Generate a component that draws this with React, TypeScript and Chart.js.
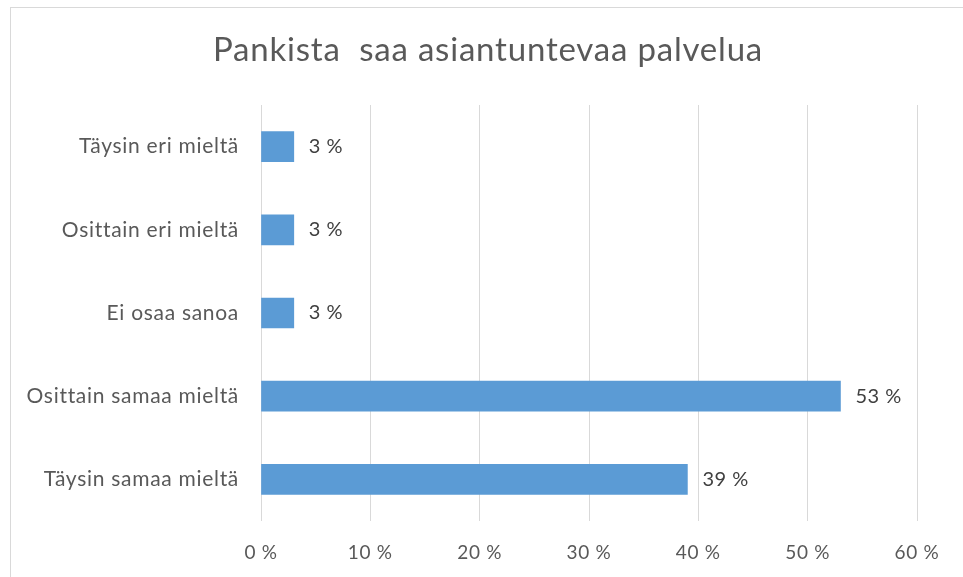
import React, { useEffect, useRef } from "react";
import { Chart, registerables } from "chart.js";

Chart.register(...registerables);

const TITLE = "Pankista  saa asiantuntevaa palvelua";
const categories = [
  "Täysin eri mieltä",
  "Osittain eri mieltä",
  "Ei osaa sanoa",
  "Osittain samaa mieltä",
  "Täysin samaa mieltä",
];
const values = [3, 3, 3, 53, 39];
const xTicks = [0, 10, 20, 30, 40, 50, 60];

const FONT = "Lato, 'Open Sans', sans-serif";
const TEXT = "#595959";

const frame = {
  id: "frame",
  beforeDraw(chart: any) {
    const ctx = chart.ctx;
    ctx.save();
    ctx.fillStyle = "#ffffff";
    ctx.fillRect(0, 0, chart.width, chart.height);
    ctx.strokeStyle = "#d9d9d9";
    ctx.lineWidth = 1;
    ctx.strokeRect(10.5, 7.5, chart.width + 20, chart.height + 20);
    ctx.font = `33px ${FONT}`;
    ctx.letterSpacing = "0.8px";
    ctx.fillStyle = TEXT;
    ctx.textAlign = "center";
    ctx.textBaseline = "alphabetic";
    ctx.fillText(TITLE, 488, 61);
    ctx.restore();
    ctx.letterSpacing = "0.7px";
  },
};

const valueLabels = {
  id: "valueLabels",
  afterDatasetsDraw(chart: any) {
    const ctx = chart.ctx;
    const meta = chart.getDatasetMeta(0);
    ctx.save();
    ctx.font = `20px ${FONT}`;
    ctx.letterSpacing = "0.5px";
    ctx.fillStyle = "#404040";
    ctx.textAlign = "left";
    ctx.textBaseline = "middle";
    meta.data.forEach((el: any, i: number) => {
      ctx.fillText(`${values[i]} %`, el.x + 15, el.y);
    });
    ctx.restore();
  },
};

export default function App() {
  const ref = useRef<HTMLCanvasElement>(null);
  useEffect(() => {
    document.body.style.margin = "0";
    const chart = new Chart(ref.current!, {
      type: "bar",
      data: {
        labels: categories,
        datasets: [
          {
            data: values,
            backgroundColor: "#5b9bd5",
            borderWidth: 0,
            barThickness: 30,
          },
        ],
      },
      options: {
        indexAxis: "y",
        animation: false,
        responsive: false,
        devicePixelRatio: 1,
        layout: { padding: { top: 105, right: 46, left: 0, bottom: 0 } },
        plugins: {
          legend: { display: false },
          tooltip: { enabled: false },
          title: { display: false },
        },
        scales: {
          x: {
            min: 0,
            max: 60,
            afterFit: (s: any) => {
              s.height = 56;
            },
            afterBuildTicks: (s: any) => {
              s.ticks = xTicks.map((v) => ({ value: v }));
            },
            grid: { color: "#d9d9d9", lineWidth: 1, drawTicks: false },
            border: { display: false },
            ticks: {
              color: TEXT,
              padding: 20,
              font: { family: FONT, size: 19 },
              callback: (v: any) => `${v} %`,
            },
          },
          y: {
            afterFit: (s: any) => {
              s.width = 261;
            },
            grid: { display: false, drawTicks: false },
            border: { display: false },
            ticks: {
              color: TEXT,
              padding: 22,
              font: { family: FONT, size: 21 },
            },
          },
        },
      },
      plugins: [frame, valueLabels],
    });
    return () => chart.destroy();
  }, []);
  return <canvas ref={ref} width={963} height={577} style={{ display: "block" }} />;
}
